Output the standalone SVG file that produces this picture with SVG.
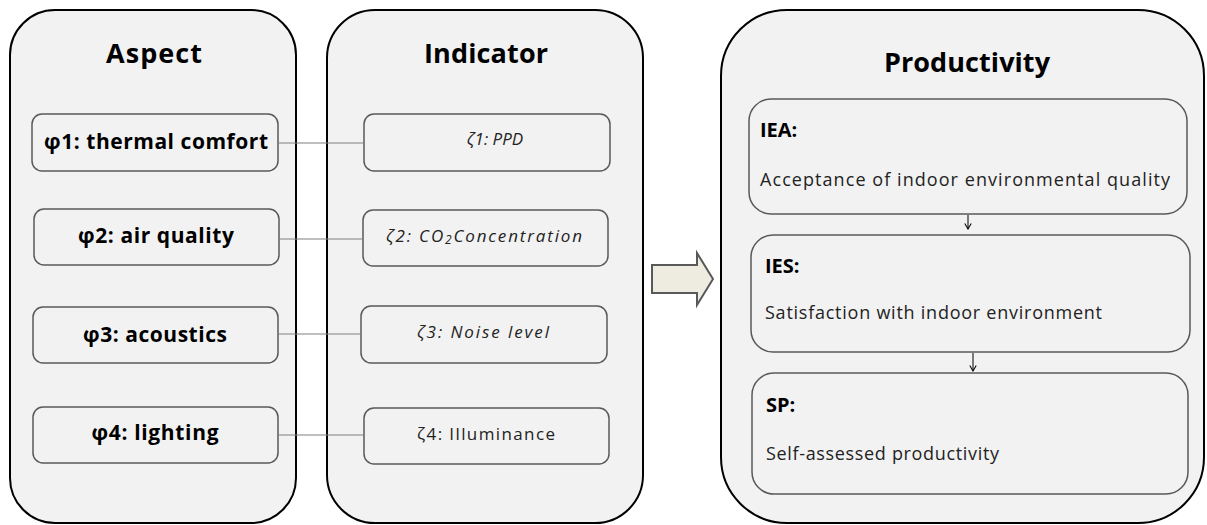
<svg xmlns="http://www.w3.org/2000/svg" width="1207" height="525" viewBox="0 0 1207 525">
<defs>
<style>
.outer{fill:#f2f2f2;stroke:#000;stroke-width:2}
.sub{fill:#f2f2f2;stroke:#595959;stroke-width:1.5}
.title{font-family:"Open Sans","Liberation Sans",sans-serif;font-weight:bold;font-size:27px;fill:#000;text-anchor:middle}
.asp{font-family:"Open Sans","Liberation Sans",sans-serif;font-weight:bold;font-size:21px;fill:#000;text-anchor:middle}
.ind{font-family:"Open Sans","Liberation Sans",sans-serif;font-style:italic;font-size:17px;fill:#222;text-anchor:middle}
.indn{font-family:"Open Sans","Liberation Sans",sans-serif;font-size:17px;fill:#222;text-anchor:middle}
.lab{font-family:"Open Sans","Liberation Sans",sans-serif;font-weight:bold;font-size:20px;fill:#000}
.body{font-family:"Open Sans","Liberation Sans",sans-serif;font-size:18px;fill:#222}
.conn{stroke:#808080;stroke-width:1.2;fill:none}
.sm{stroke:#000;stroke-width:1;fill:none}
</style>
<marker id="ah" viewBox="0 0 10 10" refX="9" refY="5" markerWidth="8" markerHeight="8" markerUnits="userSpaceOnUse" orient="auto">
<polyline points="2,1 9,5 2,9" fill="none" stroke="#000" stroke-width="1.3"/>
</marker>
</defs>
<rect width="1207" height="525" fill="#fff"/>

<g id="aspect">
<rect class="outer" x="10" y="10" width="286" height="513" rx="45" ry="45"/>
<text class="title" x="154" y="63" textLength="96">Aspect</text>
</g>
<g id="indicator">
<rect class="outer" x="327" y="10" width="316" height="513" rx="48" ry="48"/>
<text class="title" x="486" y="63" textLength="124">Indicator</text>
</g>
<g id="productivity">
<rect class="outer" x="721" y="10" width="483" height="513" rx="66" ry="66"/>
<text class="title" x="967" y="72" textLength="166">Productivity</text>
</g>

<g id="phi1"><rect class="sub" x="32" y="114" width="246" height="57" rx="10"/><text class="asp" x="156" y="149" textLength="224">φ1: thermal comfort</text></g>
<g id="phi2"><rect class="sub" x="34" y="209" width="245" height="56" rx="10"/><text class="asp" x="156" y="243" textLength="156">φ2: air quality</text></g>
<g id="phi3"><rect class="sub" x="33" y="307" width="245" height="56" rx="10"/><text class="asp" x="155" y="342" textLength="144">φ3: acoustics</text></g>
<g id="phi4"><rect class="sub" x="33" y="407" width="245" height="56" rx="10"/><text class="asp" x="155" y="440" textLength="127">φ4: lighting</text></g>

<g id="zeta1"><rect class="sub" x="364" y="114" width="246" height="57" rx="10"/><text class="ind" x="495" y="145" font-size="15">ζ1: PPD</text></g>
<g id="zeta2"><rect class="sub" x="363" y="210" width="245" height="56" rx="10"/><text class="ind" x="484" y="242" textLength="196">ζ2: CO<tspan font-size="12" dy="2">2</tspan><tspan dy="-2">Concentration</tspan></text></g>
<g id="zeta3"><rect class="sub" x="361" y="306" width="246" height="57" rx="10"/><text class="ind" x="483" y="338" textLength="132">ζ3: Noise level</text></g>
<g id="zeta4"><rect class="sub" x="364" y="408" width="245" height="56" rx="10"/><text class="indn" x="486" y="440" textLength="138">ζ4: Illuminance</text></g>

<g id="big-arrow">
<polygon points="652,265 697,265 697,253 713,279 697,305 697,293 652,293" fill="#eeece1" stroke="#595959" stroke-width="2" stroke-linejoin="miter"/>
</g>

<g id="iea"><rect class="sub" x="749" y="99" width="438" height="115" rx="22"/>
<text class="lab" x="760" y="137">IEA:</text>
<text class="body" x="760" y="186" textLength="410">Acceptance of indoor environmental quality</text></g>
<g id="ies"><rect class="sub" x="751" y="235" width="439" height="117" rx="22"/>
<text class="lab" x="765" y="273">IES:</text>
<text class="body" x="765" y="319" textLength="337">Satisfaction with indoor environment</text></g>
<g id="sp"><rect class="sub" x="752" y="373" width="436" height="121" rx="22"/>
<text class="lab" x="766" y="412">SP:</text>
<text class="body" x="766" y="460" textLength="233">Self-assessed productivity</text></g>

<g id="connectors">
<line class="conn" x1="278" y1="143" x2="364" y2="143"/>
<line class="conn" x1="279" y1="239" x2="363" y2="239"/>
<line class="conn" x1="278" y1="334" x2="361" y2="334"/>
<line class="conn" x1="278" y1="435" x2="364" y2="435"/>
<line class="sm" x1="968" y1="215" x2="968" y2="229" marker-end="url(#ah)"/>
<line class="sm" x1="973" y1="353" x2="973" y2="371" marker-end="url(#ah)"/>
</g>
</svg>
